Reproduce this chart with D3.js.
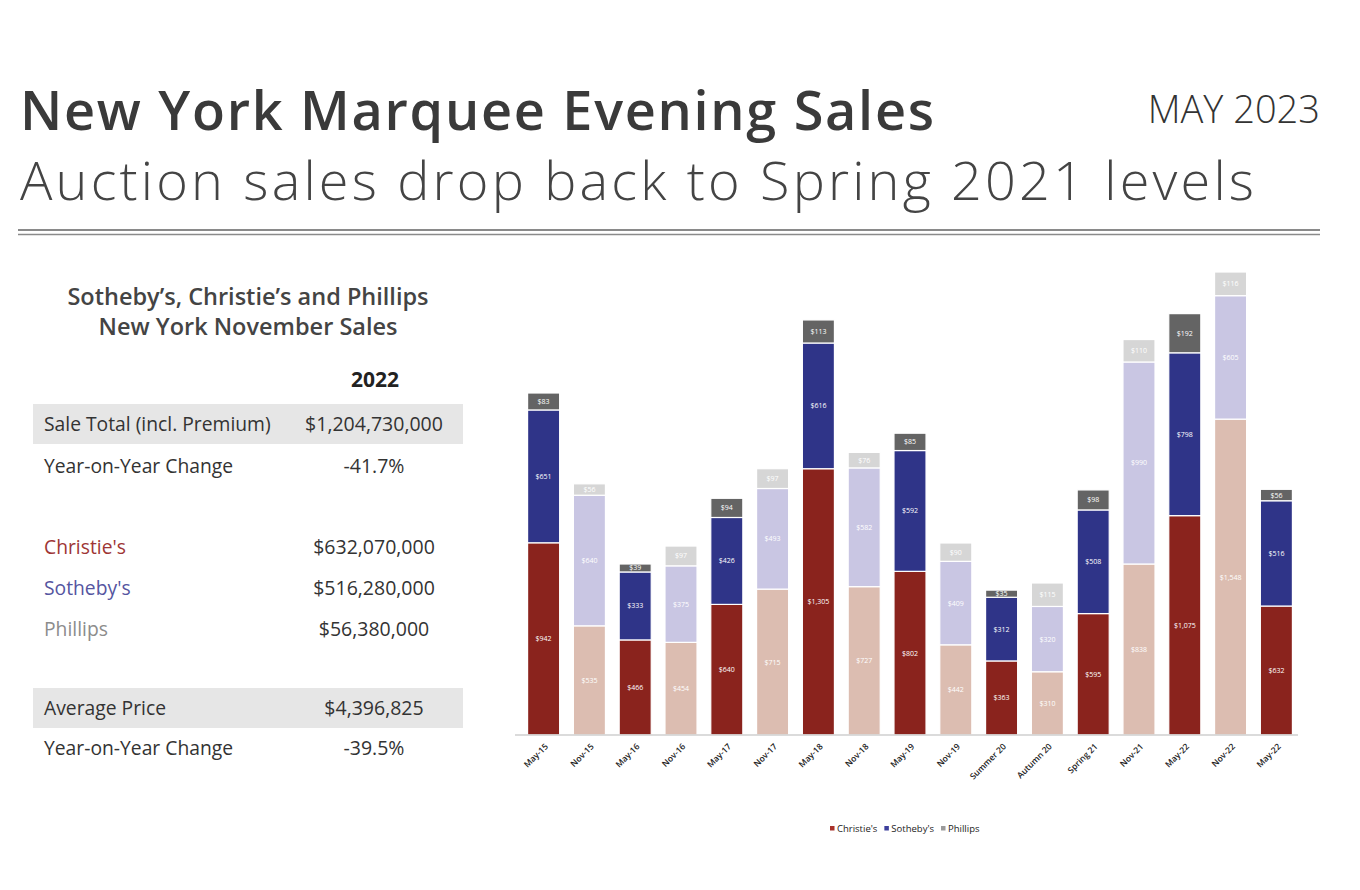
<!DOCTYPE html>
<html><head><meta charset="utf-8">
<script src="https://cdn.jsdelivr.net/npm/d3@7"></script>
<style>
html,body{margin:0;padding:0;background:#fff;}
svg{display:block;}
</style></head>
<body>
<svg id="c" width="1360" height="890"></svg>
<script>
// ---- data ----
const categories = ["May-15","Nov-15","May-16","Nov-16","May-17","Nov-17","May-18","Nov-18","May-19","Nov-19","Summer 20","Autumn 20","Spring 21","Nov-21","May-22","Nov-22","May-22"];
const seasons   = ["spring","fall","spring","fall","spring","fall","spring","fall","spring","fall","spring","fall","spring","fall","spring","fall","spring"];
const christies = [942,535,466,454,640,715,1305,727,802,442,363,310,595,838,1075,1548,632];
const sothebys  = [651,640,333,375,426,493,616,582,592,409,312,320,508,990,798,605,516];
const phillips  = [83,56,39,97,94,97,113,76,85,90,35,115,98,110,192,116,56];
const seriesNames = ["Christie's","Sotheby's","Phillips"];

const tableRows = [
  {label:"Sale Total (incl. Premium)", value:"$1,204,730,000", band:true, color:"#333"},
  {label:"Year-on-Year Change", value:"-41.7%", band:false, color:"#333"},
  {label:"Christie's", value:"$632,070,000", band:false, color:"#9e3535"},
  {label:"Sotheby's", value:"$516,280,000", band:false, color:"#55559f"},
  {label:"Phillips", value:"$56,380,000", band:false, color:"#8c8c8c"},
  {label:"Average Price", value:"$4,396,825", band:true, color:"#333"},
  {label:"Year-on-Year Change", value:"-39.5%", band:false, color:"#333"}
];
const tableRowY = [424,466,547,588,629,708,748];

// ---- styles ----
const colors = {
  spring:{ "Christie's":"#8a231d", "Sotheby's":"#2f3488", "Phillips":"#646464" },
  fall:  { "Christie's":"#dcbdb1", "Sotheby's":"#c9c6e3", "Phillips":"#d6d6d6" }
};
const legendColors = {"Christie's":"#a8312a","Sotheby's":"#3d3f9c","Phillips":"#9a9a9a"};
const FONT = "'Open Sans', 'Noto Sans', sans-serif";

const svg = d3.select("#c");

function fitSpacing(sel, targetWidth){
  const n = sel.node();
  const w = n.getComputedTextLength();
  const chars = sel.text().length;
  sel.attr("letter-spacing", (targetWidth - w)/(chars-1));
}

// ---- header ----
const t1 = svg.append("text").attr("x",20).attr("y",130).attr("font-family",FONT)
  .attr("font-weight",600).attr("font-size",54).attr("fill","#3a3a3a")
  .text("New York Marquee Evening Sales");
fitSpacing(t1, 914);
const t2 = svg.append("text").attr("x",20).attr("y",200).attr("font-family",FONT)
  .attr("font-weight",300).attr("font-size",54).attr("fill","#444")
  .text("Auction sales drop back to Spring 2021 levels");
fitSpacing(t2, 1234);
svg.append("text").attr("x",1320).attr("y",123).attr("text-anchor","end")
  .attr("font-family",FONT).attr("font-weight",300).attr("font-size",38).attr("fill","#333")
  .text("MAY 2023");

svg.append("line").attr("x1",18).attr("x2",1320).attr("y1",230).attr("y2",230)
  .attr("stroke","#8a8a8a").attr("stroke-width",2);
svg.append("line").attr("x1",18).attr("x2",1320).attr("y1",234.5).attr("y2",234.5)
  .attr("stroke","#8a8a8a").attr("stroke-width",1.6);

// ---- left table ----
svg.append("text").attr("x",248).attr("y",305).attr("text-anchor","middle")
  .attr("font-family",FONT).attr("font-weight",600).attr("font-size",23.5).attr("fill","#444")
  .text("Sotheby’s, Christie’s and Phillips");
svg.append("text").attr("x",248).attr("y",335).attr("text-anchor","middle")
  .attr("font-family",FONT).attr("font-weight",600).attr("font-size",23.5).attr("fill","#444")
  .text("New York November Sales");
svg.append("text").attr("x",375).attr("y",387).attr("text-anchor","middle")
  .attr("font-family",FONT).attr("font-weight",700).attr("font-size",21).attr("fill","#222")
  .text("2022");

tableRows.forEach((r,i)=>{
  const cy = tableRowY[i];
  if(r.band){
    svg.append("rect").attr("x",33).attr("y",cy-20).attr("width",430).attr("height",40)
      .attr("fill","#e6e6e6");
  }
  svg.append("text").attr("x",44).attr("y",cy+7).attr("font-family",FONT)
    .attr("font-size",19.3).attr("fill",r.color).text(r.label);
  svg.append("text").attr("x",374).attr("y",cy+7).attr("text-anchor","middle")
    .attr("font-family",FONT).attr("font-size",19.5).attr("fill","#333").text(r.value);
});

// ---- chart ----
const x = d3.scaleBand().domain(d3.range(categories.length)).range([523,1297]).paddingInner(0.3).paddingOuter(0.1);
const y = d3.scaleLinear().domain([0,2269]).range([735,272]);

const rows = categories.map((c,i)=>({i, cat:c, season:seasons[i],
  "Christie's":christies[i], "Sotheby's":sothebys[i], "Phillips":phillips[i]}));
const stack = d3.stack().keys(seriesNames)(rows);

const g = svg.append("g");
stack.forEach(layer=>{
  const key = layer.key;
  layer.forEach(seg=>{
    const d = seg.data;
    const y0 = y(seg[0]), y1 = y(seg[1]);
    g.append("rect").attr("x",x(d.i)).attr("width",x.bandwidth())
      .attr("y",y1).attr("height",y0-y1)
      .attr("fill",colors[d.season][key]).attr("stroke","#fff").attr("stroke-width",1.2);
    g.append("text").attr("x",x(d.i)+x.bandwidth()/2).attr("y",(y0+y1)/2+2.5)
      .attr("text-anchor","middle").attr("font-family",FONT).attr("font-size",7)
      .attr("fill","#fff").text("$"+d3.format(",")(d[key]));
  });
});

// axis
const axis = d3.axisBottom(x).tickSize(0).tickFormat(i=>categories[i]);
const ax = svg.append("g").attr("transform","translate(0,735)").call(axis);
ax.select(".domain").attr("stroke","#cfcfcf").attr("stroke-width",1.5)
  .attr("d","M515,0H1298");
ax.selectAll("text").attr("font-family",FONT).attr("font-size",8.5).attr("font-weight",600).attr("fill","#222")
  .attr("text-anchor","end").attr("dy",null).attr("y",0)
  .attr("transform","translate(5,12) rotate(-45)");

// legend
const lg = svg.append("g").attr("transform","translate(830,832)");
let lx = 0;
seriesNames.forEach(n=>{
  lg.append("rect").attr("x",lx).attr("y",-6).attr("width",4.5).attr("height",4.5).attr("fill",legendColors[n]);
  const t = lg.append("text").attr("x",lx+7).attr("y",0).attr("font-family",FONT)
    .attr("font-size",9.5).attr("fill","#222").text(n);
  lx += 7 + t.node().getComputedTextLength() + 7;
});
</script>
</body></html>
